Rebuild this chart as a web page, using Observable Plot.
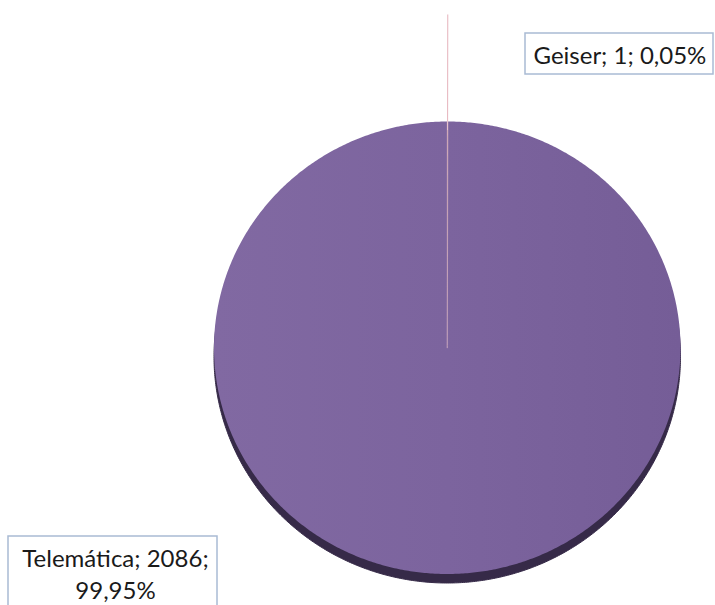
<!DOCTYPE html>
<html><head><meta charset="utf-8">
<script src="https://cdn.jsdelivr.net/npm/d3@7"></script>
<script src="https://cdn.jsdelivr.net/npm/@observablehq/plot@0.6"></script>
<style>
html,body{margin:0;padding:0;background:#fff;}
#chart{width:715px;height:605px;overflow:hidden;position:relative;}
</style></head><body><div id="chart"></div>
<script>
// ---- data ----
const categories = ["Geiser", "Telemática"];
const values = [1, 2086];

// ---- styles / layout ----
const sliceColors = ["#ecbcc6", "url(#topGrad)"];
const sliceStrokes = ["#e9c2cc", "none"];
const rimColor = "#362a48";
const leaderColor = "#e6b3bc";
const boxStroke = "#a9bbd4";
const font = "Lato";
const fontSize = 24;

const total = d3.sum(values);
const pctText = v => (v / total * 100).toFixed(2).replace(".", ",") + "%";
const labelText = i => `${categories[i]}; ${values[i]}; ${pctText(values[i])}`;

const slices = d3.pie().sort(null).value(d => d.value)(
  categories.map((c, i) => ({category: c, value: values[i], color: sliceColors[i], stroke: sliceStrokes[i]}))
);

function arcPoints(a0, a1) {
  const pts = [{x: 0, y: 0}];
  const n = Math.max(2, Math.ceil((a1 - a0) / (Math.PI / 360)));
  for (let k = 0; k <= n; k++) {
    const a = a0 + (a1 - a0) * k / n;
    pts.push({x: Math.sin(a), y: Math.cos(a)});
  }
  pts.push({x: 0, y: 0});
  return pts;
}

const disc = arcPoints(0, 2 * Math.PI);
const geiser = slices[0];
const gMid = (geiser.startAngle + geiser.endAngle) / 2;
const leader = [{x1: Math.sin(gMid), y1: Math.cos(gMid), x2: 1.473 * Math.sin(gMid), y2: 1.473 * Math.cos(gMid)}];

const marks = [
  Plot.line(disc, {x: "x", y: "y", fill: rimColor, stroke: rimColor, strokeWidth: 1, dy: 9}),
  ...slices.slice().reverse().map(s => Plot.line(arcPoints(s.startAngle, s.endAngle), {
    x: "x", y: "y", fill: s.data.color, stroke: s.data.stroke, strokeWidth: 0.7, strokeOpacity: 0.6
  })),
  Plot.link(leader, {x1: "x1", y1: "y1", x2: "x2", y2: "y2", stroke: leaderColor, strokeWidth: 1}),
  Plot.text([labelText(0)], {text: d => d, frameAnchor: "top-left", dx: 533, dy: 63, textAnchor: "start", lineAnchor: "bottom", fontSize, fontFamily: font, fill: "#1a1a1a"}),
  Plot.text([`${categories[1]}; ${values[1]};\n${pctText(values[1])}`], {text: d => d, frameAnchor: "top-left", dx: 115, dy: 598, textAnchor: "middle", lineAnchor: "bottom", lineHeight: 1.3, fontSize, fontFamily: font, fill: "#1a1a1a"})
];

const plot = Plot.plot({
  width: 715, height: 605,
  margin: 0,
  x: {domain: [-1, 1], range: [213.5, 680], axis: null},
  y: {domain: [-1, 1], range: [573.5, 121], axis: null},
  style: {background: "#fff", overflow: "hidden"},
  marks
});

document.getElementById("chart").append(plot);

const svg = d3.select(plot);
const defs = svg.insert("defs", ":first-child");
const grad = defs.append("linearGradient").attr("id", "topGrad").attr("x1", 0).attr("x2", 1).attr("y1", 0).attr("y2", 0);
grad.append("stop").attr("offset", 0).attr("stop-color", "#8169a2");
grad.append("stop").attr("offset", 0.5).attr("stop-color", "#7c649e");
grad.append("stop").attr("offset", 1).attr("stop-color", "#755d97");

// label frames (layout)
const boxes = [[525, 33, 713, 74], [8, 536, 217, 640]];
const textGroups = plot.querySelectorAll("text");
const firstLabel = textGroups.length ? textGroups[0].closest("g") || textGroups[0] : null;
if (firstLabel) {
  boxes.forEach(([x0, y0, x1, y1]) => {
    d3.select(firstLabel.parentNode).insert("rect", () => firstLabel)
      .attr("x", x0).attr("y", y0).attr("width", x1 - x0).attr("height", y1 - y0)
      .attr("fill", "#fff").attr("stroke", boxStroke).attr("stroke-width", 1.5);
  });
}
</script>
</body></html>
